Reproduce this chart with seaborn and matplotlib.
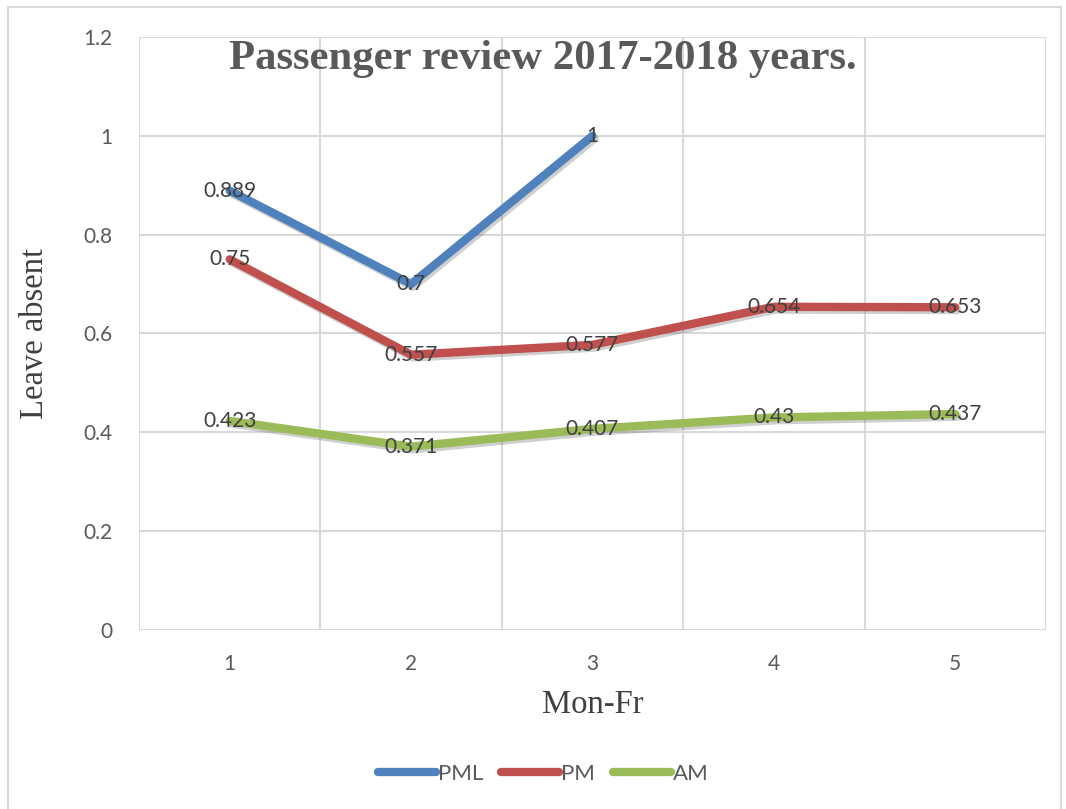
import numpy as np
import pandas as pd
import matplotlib
matplotlib.use('Agg')
import matplotlib.pyplot as plt
import matplotlib.patheffects as pe
from matplotlib.lines import Line2D
import seaborn as sns

# Data
days = [1, 2, 3, 4, 5]
pml = [0.889, 0.7, 1, np.nan, np.nan]
pm = [0.75, 0.557, 0.577, 0.654, 0.653]
am = [0.423, 0.371, 0.407, 0.43, 0.437]
series_names = ['PML', 'PM', 'AM']
colors = ['#4F81BD', '#C0504D', '#9BBB59']

df = pd.DataFrame({'day': days * 3,
                   'value': pml + pm + am,
                   'series': [s for s in series_names for _ in days]})

sns.set_style('white')
plt.rcParams['font.family'] = ['Lato', 'DejaVu Sans']

fig = plt.figure(figsize=(10.66, 8.09), dpi=100)
ax = fig.add_axes([0.1304, 0.2213, 0.8508, 0.733])

shadow = [pe.SimpleLineShadow(offset=(1.5, -2), shadow_color='#777777', alpha=0.35),
          pe.Normal()]

sns.lineplot(data=df, x='day', y='value', hue='series', hue_order=series_names,
             palette=colors, linewidth=6, ax=ax, legend=False)
for line in ax.lines:
    line.set_solid_capstyle('round')
    line.set_path_effects(shadow)

# data labels
for vals in [pml, pm, am]:
    for d, v in zip(days, vals):
        if not np.isnan(v):
            ax.text(d, v, f'{v:g}', ha='center', va='center', fontsize=15,
                    color='#404040')

ax.set_xlim(0.5, 5.5)
ax.set_ylim(0, 1.2)
ax.set_yticks(np.arange(0, 1.21, 0.2))
ax.set_yticklabels(['0', '0.2', '0.4', '0.6', '0.8', '1', '1.2'])
ax.set_xticks(days)
ax.set_xticks(np.arange(0.5, 5.6, 1), minor=True)
ax.tick_params(axis='both', which='both', length=0, labelsize=15, colors='#595959')
ax.tick_params(axis='y', pad=19)
ax.tick_params(axis='x', pad=17)
ax.grid(True, axis='y', which='major', color='#d9d9d9', linewidth=1.5)
ax.grid(True, axis='x', which='minor', color='#d9d9d9', linewidth=1.5)
for s in ax.spines.values():
    s.set_visible(False)
ax.set_axisbelow(True)

ax.set_xlabel('Mon-Fr', fontsize=23.5, family='Liberation Serif', color='#404040')
ax.set_ylabel('Leave absent', fontsize=23.5, family='Liberation Serif', color='#404040')
ax.xaxis.set_label_coords(0.5, -0.1012)
ax.yaxis.set_label_coords(-0.0982, 0.5)

fig.text(0.509, 0.9275, 'Passenger review 2017-2018 years.', ha='center', va='center',
         fontsize=30.8, fontweight='bold', family='Liberation Serif', color='#595959')

# legend
handles = [Line2D([0], [0], color=c, lw=6, solid_capstyle='round') for c in colors]
fig.legend(handles, series_names, loc='center', bbox_to_anchor=(0.51, 0.043), ncol=3,
           frameon=False, fontsize=16, labelcolor='#595959', handlelength=2.6,
           handletextpad=0.1, columnspacing=0.8)

# outer border
fig.patches.append(plt.Rectangle((0.0075, -0.01), 0.988, 1.001, transform=fig.transFigure,
                                 fill=False, edgecolor='#d9d9d9', linewidth=1.5))

fig.savefig('out.png', dpi=100)
